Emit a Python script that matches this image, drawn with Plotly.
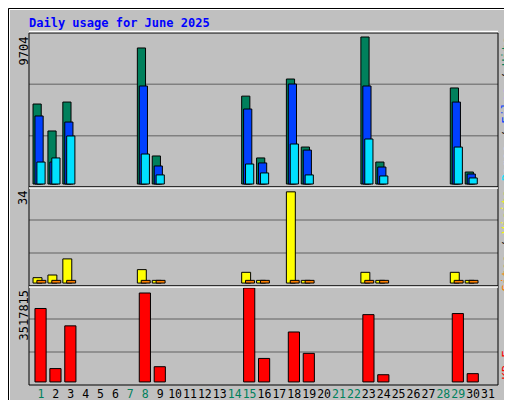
import plotly.graph_objects as go

days = list(range(1, 32))
weekend = [1, 7, 8, 14, 15, 21, 22, 28, 29]

hits = {1: 5280, 2: 3500, 3: 5410, 8: 8980, 9: 1850, 15: 5800, 16: 1720,
        18: 6930, 19: 2440, 23: 9704, 24: 1450, 29: 6340, 30: 790}
files = {1: 4490, 2: 1450, 3: 4090, 8: 6470, 9: 1190, 15: 4950, 16: 1390,
         18: 6600, 19: 2240, 23: 6470, 24: 1120, 29: 5410, 30: 660}
pages = {1: 1450, 2: 1720, 3: 3170, 8: 1980, 9: 600, 15: 1320, 16: 730,
         18: 2640, 19: 600, 23: 2970, 24: 530, 29: 2440, 30: 400}
visits = {1: 2, 2: 3, 3: 9, 8: 5, 9: 1, 15: 4, 16: 1, 18: 34, 19: 1,
          23: 4, 24: 1, 29: 4, 30: 1}
sites = {1: 1, 2: 1, 3: 1, 8: 1, 9: 1, 15: 1, 16: 1, 18: 1, 19: 1,
         23: 1, 24: 1, 29: 1, 30: 1}
kbytes = {1: 2750000, 2: 500000, 3: 2100000, 8: 3330000, 9: 570000,
          15: 3517815, 16: 880000, 18: 1870000, 19: 1070000, 23: 2520000,
          24: 270000, 29: 2560000, 30: 310000}

W, H = 512, 400
L, R, T, B = 21, 490, 25, 377
def px(x): return (x - L) / (R - L)
def py(y): return (B - y) / (B - T)

FONT = "DejaVu Sans Mono"
line = dict(color="black", width=1)

def bar(d, color, offset, width, axis):
    return go.Bar(x=list(d.keys()), y=list(d.values()), offset=offset, width=width,
                  marker=dict(color=color, line=line), xaxis="x", yaxis=axis,
                  showlegend=False, hoverinfo="skip")

fig = go.Figure([
    bar(hits, "#00805C", -0.53, 0.55, "y"),
    bar(files, "#0040FF", -0.4, 0.55, "y"),
    bar(pages, "#00E0FF", -0.27, 0.55, "y"),
    bar(visits, "#FFFF00", -0.53, 0.6, "y2"),
    bar(sites, "#FF8000", -0.27, 0.6, "y2"),
    bar(kbytes, "#FF0000", -0.4, 0.75, "y3"),
])

top_d = (py(179), 1)
mid_d = (py(278), py(179))
bot_d = (0, py(278))

def yax(d, lo, hi):
    return dict(domain=list(d), range=[lo, hi], showgrid=False, zeroline=False,
                showticklabels=False, fixedrange=True, automargin=False)

ticktext = [f"<span style='color:{'#00805C' if d in weekend else 'black'}'>{d}</span>" for d in days]

fig.update_layout(
    width=W, height=H, margin=dict(l=L, r=W - R, t=T, b=H - B, autoexpand=False),
    paper_bgcolor="#C0C0C0", plot_bgcolor="#C0C0C0", barmode="overlay",
    font=dict(family=FONT, size=12, color="black"),
    xaxis=dict(range=[0.2, 31.67], tickvals=days, ticktext=ticktext, showgrid=False,
               zeroline=False, ticks="", anchor="y3", fixedrange=True, tickangle=0,
               automargin=False, tickfont=dict(size=11.5, family=FONT)),
    yaxis=yax(top_d, -198, 9968),
    yaxis2=yax(mid_d, -1.1, 35.8),
    yaxis3=yax(bot_d, -115000, 3592000),
)

shapes = []
# outer frame with bevel
shapes.append(dict(type="rect", xref="paper", yref="paper", x0=px(505), x1=px(511),
                   y0=py(399), y1=py(1), fillcolor="#808080", line=dict(width=0)))
shapes.append(dict(type="rect", xref="paper", yref="paper", x0=px(1), x1=px(511),
                   y0=py(399), y1=py(393), fillcolor="#808080", line=dict(width=0)))
shapes.append(dict(type="rect", xref="paper", yref="paper", x0=px(0.5), x1=px(511.5),
                   y0=py(399.5), y1=py(0.5), line=dict(color="black", width=1)))
shapes.append(dict(type="line", xref="paper", yref="paper", x0=px(1.5), x1=px(1.5),
                   y0=py(399), y1=py(1.5), line=dict(color="white", width=1)))
shapes.append(dict(type="line", xref="paper", yref="paper", x0=px(1.5), x1=px(505),
                   y0=py(1.5), y1=py(1.5), line=dict(color="white", width=1)))
# panel grid lines and borders
for d in (top_d, mid_d, bot_d):
    h = d[1] - d[0]
    for f in (1 / 3, 2 / 3):
        shapes.append(dict(type="line", xref="paper", yref="paper", x0=0, x1=1,
                           y0=d[0] + h * f, y1=d[0] + h * f,
                           line=dict(color="#808080", width=1.5), layer="below"))
    shapes.append(dict(type="rect", xref="paper", yref="paper", x0=0, x1=1,
                       y0=d[0], y1=d[1], line=dict(color="black", width=1)))
for d in (top_d, mid_d):
    shapes.append(dict(type="line", xref="paper", yref="paper", x0=0, x1=1,
                       y0=d[0] - 0.003, y1=d[0] - 0.003, line=dict(color="white", width=1.5)))
shapes.append(dict(type="line", xref="paper", yref="paper", x0=0, x1=1,
                   y0=1.004, y1=1.004, line=dict(color="white", width=1.5)))
fig.update_layout(shapes=shapes)

ann = [dict(text="<b>Daily usage for June 2025</b>", x=px(19), y=py(15), xref="paper",
            yref="paper", xanchor="left", yanchor="middle", showarrow=False,
            font=dict(color="#0000FF", size=12, family=FONT))]
for txt, y in (("9704", 25), ("34", 179), ("3517815", 278)):
    ann.append(dict(text=txt, textangle=-90, x=px(15), y=py(y + 2), xref="paper",
                    yref="paper", xanchor="center", yanchor="top", showarrow=False,
                    font=dict(size=12, family=FONT)))
side = [
    ("<span style='color:#00E0FF'>Pages</span> / <span style='color:#0040FF'>Files</span>"
     " / <span style='color:#00805C'>Hits</span>", 27),
    ("<span style='color:#FF8000'>Sites</span> / <span style='color:#FFFF00'>Visits</span>", 181),
    ("<span style='color:#FF0000'>KB F</span>", 341),
]
for txt, y in side:
    ann.append(dict(text=txt, textangle=-90, x=px(498), y=py(y), xref="paper",
                    yref="paper", xanchor="center", yanchor="top", showarrow=False,
                    font=dict(size=12, family=FONT, color="black")))
fig.update_layout(annotations=ann)

fig.write_html("out.html")
